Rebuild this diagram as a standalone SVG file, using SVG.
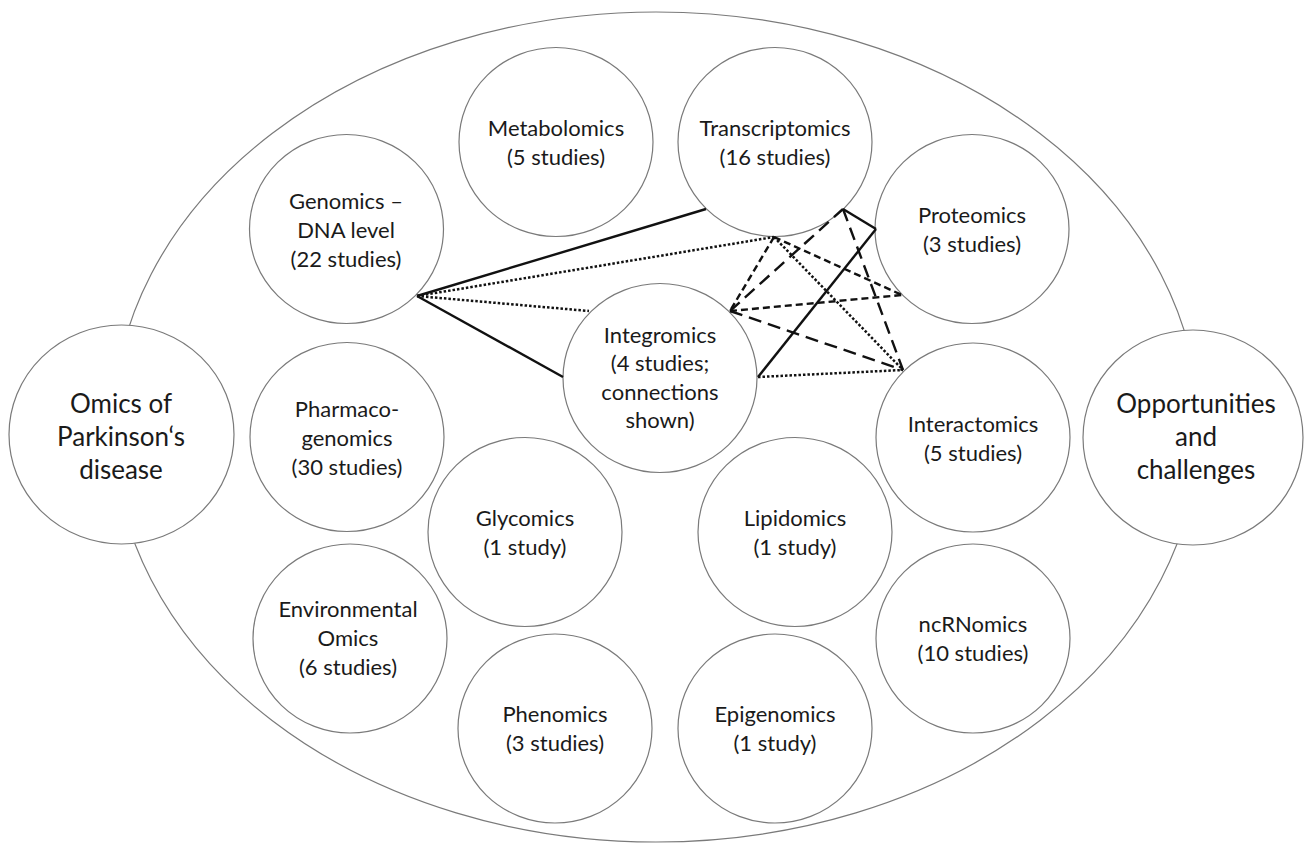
<svg xmlns="http://www.w3.org/2000/svg" width="1305" height="844" viewBox="0 0 1305 844">
<style>
.bg{fill:#fff}
.outer{fill:none;stroke:#7a7a7a;stroke-width:1.2}
.n{fill:#fff;stroke:#7a7a7a;stroke-width:1.2}
.t{font-family:Lato,"Liberation Sans",sans-serif;font-size:22px;fill:#1a1a1a;text-anchor:middle}
.tb{font-family:Lato,"Liberation Sans",sans-serif;font-size:26px;fill:#1a1a1a;text-anchor:middle}
.c{stroke:#111;stroke-width:2.4;fill:none}
.solid{}
.dot{stroke-dasharray:2.5 2;stroke-width:2.5}
.sd{stroke-dasharray:7 4}
.ld{stroke-dasharray:13 7}
</style>
<rect class="bg" x="0" y="0" width="1305" height="844"/>
<ellipse id="outer" class="outer" cx="656" cy="427" rx="543" ry="415"/>
<g id="omics-pd"><ellipse class="n" cx="121.5" cy="434.5" rx="112.5" ry="109.5"/>
<text class="tb" x="121" y="413">Omics of</text><text class="tb" x="121" y="446">Parkinson‘s</text><text class="tb" x="121" y="479">disease</text></g>
<g id="opportunities"><ellipse class="n" cx="1193" cy="437.5" rx="110" ry="107.5"/>
<text class="tb" x="1196" y="413">Opportunities</text><text class="tb" x="1196" y="446">and</text><text class="tb" x="1196" y="479">challenges</text></g>
<g id="metabolomics"><ellipse class="n" cx="556" cy="142" rx="97" ry="94.5"/>
<text class="t" x="556" y="136">Metabolomics</text><text class="t" x="556" y="165">(5 studies)</text></g>
<g id="transcriptomics"><ellipse class="n" cx="775" cy="142" rx="97" ry="94.5"/>
<text class="t" x="775" y="136">Transcriptomics</text><text class="t" x="775" y="165">(16 studies)</text></g>
<g id="genomics"><ellipse class="n" cx="346.5" cy="229" rx="97" ry="94.5"/>
<text class="t" x="346" y="209">Genomics –</text><text class="t" x="346" y="238">DNA level</text><text class="t" x="346" y="267">(22 studies)</text></g>
<g id="proteomics"><ellipse class="n" cx="972" cy="229" rx="97" ry="94.5"/>
<text class="t" x="972" y="223">Proteomics</text><text class="t" x="972" y="252">(3 studies)</text></g>
<g id="integromics"><ellipse class="n" cx="660" cy="378" rx="97" ry="94.5"/>
<text class="t" x="660" y="343">Integromics</text><text class="t" x="660" y="371">(4 studies;</text><text class="t" x="660" y="400">connections</text><text class="t" x="660" y="428">shown)</text></g>
<g id="pharmacogenomics"><ellipse class="n" cx="347" cy="437" rx="97" ry="94.5"/>
<text class="t" x="347" y="417">Pharmaco-</text><text class="t" x="347" y="446">genomics</text><text class="t" x="347" y="475">(30 studies)</text></g>
<g id="interactomics"><ellipse class="n" cx="973" cy="437.5" rx="97" ry="94.5"/>
<text class="t" x="973" y="432">Interactomics</text><text class="t" x="973" y="461">(5 studies)</text></g>
<g id="glycomics"><ellipse class="n" cx="525" cy="532" rx="97" ry="94.5"/>
<text class="t" x="525" y="526">Glycomics</text><text class="t" x="525" y="555">(1 study)</text></g>
<g id="lipidomics"><ellipse class="n" cx="795" cy="532" rx="97" ry="94.5"/>
<text class="t" x="795" y="526">Lipidomics</text><text class="t" x="795" y="555">(1 study)</text></g>
<g id="environmental"><ellipse class="n" cx="350" cy="638.5" rx="97" ry="94.5"/>
<text class="t" x="348" y="617">Environmental</text><text class="t" x="348" y="646">Omics</text><text class="t" x="348" y="675">(6 studies)</text></g>
<g id="ncrnomics"><ellipse class="n" cx="973" cy="638.5" rx="97" ry="94.5"/>
<text class="t" x="973" y="632">ncRNomics</text><text class="t" x="973" y="661">(10 studies)</text></g>
<g id="phenomics"><ellipse class="n" cx="555" cy="728.5" rx="97" ry="94.5"/>
<text class="t" x="555" y="722">Phenomics</text><text class="t" x="555" y="751">(3 studies)</text></g>
<g id="epigenomics"><ellipse class="n" cx="775" cy="728.5" rx="97" ry="94.5"/>
<text class="t" x="775" y="722">Epigenomics</text><text class="t" x="775" y="751">(1 study)</text></g>
<g id="connectors" class="c">
<line class="solid" x1="417" y1="296" x2="706" y2="209"/>
<line class="solid" x1="417" y1="296" x2="563" y2="377"/>
<line class="solid" x1="843" y1="209" x2="876" y2="229"/>
<line class="solid" x1="876" y1="229" x2="758" y2="377"/>
<line class="dot" x1="417" y1="296" x2="774" y2="237"/>
<line class="dot" x1="417" y1="296" x2="589" y2="311"/>
<line class="dot" x1="774" y1="237" x2="903" y2="370"/>
<line class="dot" x1="758" y1="377" x2="903" y2="370"/>
<line class="sd" x1="774" y1="237" x2="730" y2="311"/>
<line class="sd" x1="774" y1="237" x2="902" y2="295"/>
<line class="sd" x1="730" y1="311" x2="902" y2="295"/>
<line class="ld" x1="730" y1="311" x2="843" y2="209"/>
<line class="ld" x1="730" y1="311" x2="903" y2="370"/>
<line class="ld" x1="843" y1="209" x2="903" y2="370"/>
</g>
</svg>
